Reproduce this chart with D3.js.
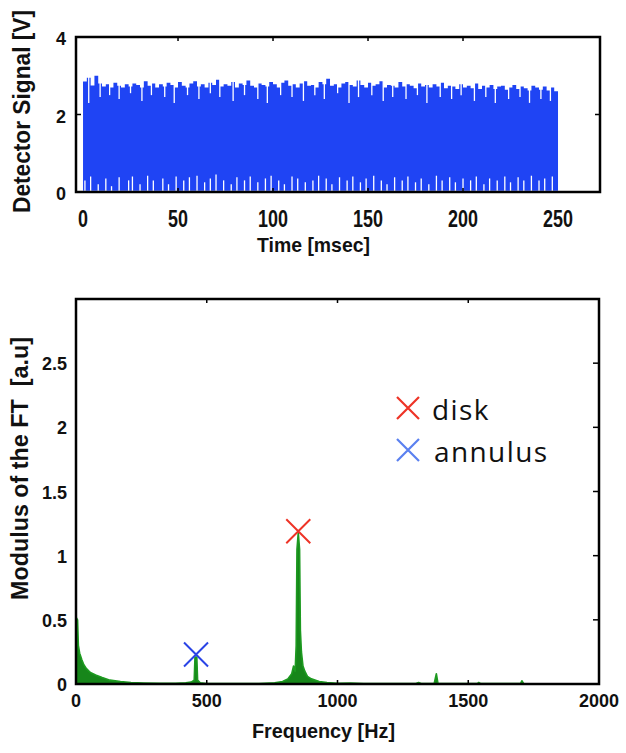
<!DOCTYPE html>
<html>
<head>
<meta charset="utf-8">
<script src="https://cdnjs.cloudflare.com/ajax/libs/d3/7.8.5/d3.min.js"></script>
<style>
  body { margin: 0; background: #fff; }
  svg { display: block; }
  .lab { font-family: "Liberation Sans", Arial, sans-serif; font-weight: bold; fill: #111; white-space: pre; }
</style>
</head>
<body>
<svg width="626" height="753"></svg>
<script>
// time signal: top envelope sampled every 2 ms
const timeStep = 2
const signalUpper = [2.85,2.95,2.75,3.0,2.8,2.72,2.78,2.7,2.82,2.74,2.7,2.78,2.72,2.8,2.76,2.7,2.86,2.74,2.8,2.7,
  2.78,2.72,2.82,2.76,2.7,2.84,2.74,2.7,2.8,2.86,2.72,2.78,2.7,2.82,2.76,2.9,2.72,2.78,2.74,2.84,
  2.7,2.8,2.76,2.88,2.74,2.7,2.8,2.76,2.72,2.84,2.78,2.7,2.82,2.88,2.74,2.78,2.7,2.8,2.86,2.74,
  2.76,2.7,2.84,2.78,2.92,2.74,2.78,2.7,2.8,2.84,2.76,2.72,2.88,2.76,2.7,2.82,2.74,2.78,2.86,2.7,
  2.76,2.74,2.7,2.84,2.72,2.78,2.74,2.68,2.8,2.72,2.76,2.7,2.78,2.72,2.82,2.68,2.74,2.72,2.66,2.78,
  2.7,2.74,2.68,2.8,2.66,2.74,2.7,2.76,2.66,2.72,2.74,2.64,2.7,2.76,2.66,2.72,2.68,2.62,2.74,2.7,
  2.64,2.72,2.62,2.7,2.6,2.66]
const signalFloor = 0.03
// narrow dips from the top envelope: [time ms, lowest value V]
const topDips = [[3,2.3],[9,2.45],[14,2.5],[19,2.4],[25,2.55],[31,2.35],[36,2.5],[43,2.45],[48,2.3],[55,2.5],
  [61,2.4],[67,2.55],[72,2.45],[79,2.35],[85,2.5],[92,2.4],[97,2.3],[104,2.5],[110,2.45],[116,2.35],
  [122,2.5],[127,2.4],[134,2.55],[140,2.3],[145,2.45],[152,2.5],[158,2.35],[163,2.45],[170,2.4],[176,2.5],
  [181,2.3],[188,2.45],[194,2.4],[199,2.5],[206,2.35],[212,2.45],[217,2.3],[224,2.4],[230,2.45],[235,2.3],
  [241,2.4],[246,2.35]]
// narrow drops to zero from the bottom: [time ms, top of gap V]
const bottomGaps = [[1,0.3],[4,0.4],[8,0.2],[12,0.35],[15,0.15],[19,0.38],[24,0.3],[26,0.4],[30,0.2],[34,0.42],
  [37,0.3],[42,0.35],[45,0.2],[49,0.4],[53,0.3],[56,0.38],[60,0.42],[64,0.25],[67,0.35],[70,0.45],
  [74,0.3],[78,0.2],[81,0.38],[85,0.3],[88,0.4],[92,0.25],[96,0.35],[99,0.42],[103,0.3],[106,0.2],
  [110,0.4],[113,0.35],[117,0.25],[121,0.3],[124,0.42],[128,0.35],[131,0.2],[135,0.38],[139,0.3],[142,0.4],
  [146,0.25],[149,0.35],[153,0.42],[157,0.3],[160,0.2],[164,0.38],[168,0.3],[171,0.4],[175,0.25],[178,0.35],
  [182,0.2],[186,0.42],[189,0.3],[193,0.38],[196,0.25],[200,0.35],[204,0.3],[207,0.4],[211,0.2],[214,0.35],
  [218,0.3],[222,0.4],[225,0.25],[229,0.38],[232,0.3],[236,0.42],[240,0.3],[243,0.35],[247,0.4]]
const timeTicks = [0, 50, 100, 150, 200, 250]
const voltTicks = [0, 2, 4]

// spectrum
const specFreq = [0,6,9,14,22,30,40,55,75,100,130,170,210,260,320,380,420,440,452,455,462,465,475,500,560,620,700,
  760,790,810,825,832,838,842,845,850,855,858,862,868,875,885,900,930,960,1000,1050,1100,1200,1300,1310,1320,
  1370,1378,1384,1450,1535,1540,1548,1700,1705,1712,1800,2000]
const specMod = [0.52,0.5,0.3,0.24,0.19,0.15,0.12,0.09,0.07,0.05,0.03,0.02,0.012,0.008,0.005,0.006,0.01,0.015,0.03,0.21,0.21,0.03,0.01,0.004,0.003,0.003,0.004,
  0.01,0.02,0.04,0.08,0.14,0.1,0.3,1.05,1.18,1.05,0.42,0.25,0.14,0.1,0.06,0.04,0.02,0.012,0.006,0.008,0.004,0.003,0.004,0.012,0.004,
  0.006,0.08,0.006,0.003,0.003,0.012,0.003,0.003,0.025,0.003,0.002,0.002]
const freqTicks = [0, 500, 1000, 1500, 2000]
const modTicks = [0, 0.5, 1, 1.5, 2, 2.5]

// marked peaks
const peakNames = ["disk", "annulus"]
const peakFreq = [850, 459]
const peakMod = [1.19, 0.23]
const peakColors = ["#ee3326", "#2a44e6"]
const legendColors = ["#ee3326", "#5a80f0"]

const svg = d3.select("svg")

function frame(g, x0, y0, x1, y1) {
  g.append("rect")
    .attr("x", x0).attr("y", y0)
    .attr("width", x1 - x0).attr("height", y1 - y0)
    .attr("fill", "none").attr("stroke", "#000").attr("stroke-width", 2.5)
}

// ---------- top panel ----------
const topPanel = svg.append("g")
const tx = d3.scaleLinear().domain([-3.7, 272.1]).range([76, 600])
const ty = d3.scaleLinear().domain([0, 4]).range([192, 37])

const area = d3.area()
  .curve(d3.curveStepAfter)
  .x((d, i) => tx(i * timeStep))
  .y0(ty(signalFloor))
  .y1(d => ty(d))

topPanel.append("path")
  .datum(signalUpper)
  .attr("d", area)
  .attr("fill", "#1f44f4")

topPanel.selectAll(".dip").data(topDips).join("line")
  .attr("x1", d => tx(d[0])).attr("x2", d => tx(d[0]))
  .attr("y1", ty(3.1)).attr("y2", d => ty(d[1]))
  .attr("stroke", "#fff").attr("stroke-width", 1.3)

topPanel.selectAll(".gap").data(bottomGaps).join("line")
  .attr("x1", d => tx(d[0])).attr("x2", d => tx(d[0]))
  .attr("y1", ty(0)).attr("y2", d => ty(d[1]))
  .attr("stroke", "#fff").attr("stroke-width", 1.3)

topPanel.selectAll(".xt").data(timeTicks).join("text")
  .attr("class", "lab")
  .attr("transform", d => `translate(${tx(d)},227) scale(0.78,1)`)
  .attr("text-anchor", "middle")
  .attr("font-size", 23)
  .text(d => d)

topPanel.selectAll(".yt").data(voltTicks).join("text")
  .attr("class", "lab")
  .attr("x", 66).attr("y", d => ty(d) + 8)
  .attr("text-anchor", "end")
  .attr("font-size", 18)
  .text(d => d)

// inward ticks
topPanel.selectAll(".tk").data(timeTicks.slice(1, -1)).join("path")
  .attr("d", d => `M${tx(d)},37v4M${tx(d)},192v-4`)
  .attr("stroke", "#000").attr("stroke-width", 1.5)
topPanel.selectAll(".tky").data([2]).join("path")
  .attr("d", d => `M600,${ty(d)}h-5M76,${ty(d)}h5`)
  .attr("stroke", "#000").attr("stroke-width", 1.5)

frame(topPanel, 76, 37, 600, 192)

topPanel.append("text")
  .attr("class", "lab")
  .attr("x", 257).attr("y", 252)
  .attr("font-size", 21)
  .attr("textLength", 113)
  .attr("lengthAdjust", "spacingAndGlyphs")
  .text("Time [msec]")

topPanel.append("text")
  .attr("class", "lab")
  .attr("transform", "translate(30,213) rotate(-90)")
  .attr("font-size", 23)
  .attr("textLength", 203)
  .attr("lengthAdjust", "spacingAndGlyphs")
  .text("Detector Signal [V]")

// ---------- bottom panel ----------
const bot = svg.append("g")
const fx = d3.scaleLinear().domain([0, 2000]).range([76, 599])
const fy = d3.scaleLinear().domain([0, 3]).range([684, 299])

const specArea = d3.area()
  .x(d => fx(d[0]))
  .y0(fy(0))
  .y1(d => fy(d[1]))

bot.append("path")
  .datum(d3.zip(specFreq, specMod))
  .attr("d", specArea)
  .attr("fill", "#17861a")
  .attr("stroke", "#1d9a20")
  .attr("stroke-width", 1.6)
  .attr("stroke-linejoin", "round")

bot.selectAll(".xt").data(freqTicks).join("text")
  .attr("class", "lab")
  .attr("x", d => fx(d)).attr("y", 707)
  .attr("text-anchor", "middle")
  .attr("font-size", 18)
  .text(d => d)

bot.selectAll(".yt").data(modTicks).join("text")
  .attr("class", "lab")
  .attr("x", 67).attr("y", d => fy(d) + 7)
  .attr("text-anchor", "end")
  .attr("font-size", 18)
  .text(d => d)

bot.selectAll(".tk").data(freqTicks.slice(1, -1)).join("path")
  .attr("d", d => `M${fx(d)},299v4M${fx(d)},684v-4`)
  .attr("stroke", "#000").attr("stroke-width", 1.5)
bot.selectAll(".tky").data(modTicks.slice(1)).join("path")
  .attr("d", d => `M599,${fy(d)}h-6`)
  .attr("stroke", "#000").attr("stroke-width", 1.5)

frame(bot, 76, 299, 599, 684)

// peak markers
const xMark = s => `M${-s},${-s}L${s},${s}M${-s},${s}L${s},${-s}`
bot.selectAll(".pk").data(peakFreq).join("path")
  .attr("transform", (d, i) => `translate(${fx(d)},${fy(peakMod[i])})`)
  .attr("d", xMark(12))
  .attr("fill", "none")
  .attr("stroke", (d, i) => peakColors[i])
  .attr("stroke-width", 2)

// legend
const leg = bot.selectAll(".lg").data(peakNames).join("g")
  .attr("transform", (d, i) => `translate(408,${408 + i * 42})`)
leg.append("path")
  .attr("d", xMark(11))
  .attr("fill", "none")
  .attr("stroke", (d, i) => legendColors[i])
  .attr("stroke-width", 2.2)
leg.append("text")
  .attr("x", (d, i) => i ? 26 : 24).attr("y", 12)
  .attr("font-family", "'Open Sans', sans-serif")
  .attr("font-size", 28)
  .attr("letter-spacing", 1.4)
  .attr("fill", "#111")
  .text(d => d)

bot.append("text")
  .attr("class", "lab")
  .attr("x", 252).attr("y", 738)
  .attr("font-size", 21)
  .attr("textLength", 143)
  .attr("lengthAdjust", "spacingAndGlyphs")
  .text("Frequency [Hz]")

bot.append("text")
  .attr("class", "lab")
  .attr("transform", "translate(28,600) rotate(-90)")
  .attr("font-size", 23)
  .attr("textLength", 263)
  .attr("lengthAdjust", "spacingAndGlyphs")
  .text("Modulus of the FT  [a.u]")
</script>
</body>
</html>
